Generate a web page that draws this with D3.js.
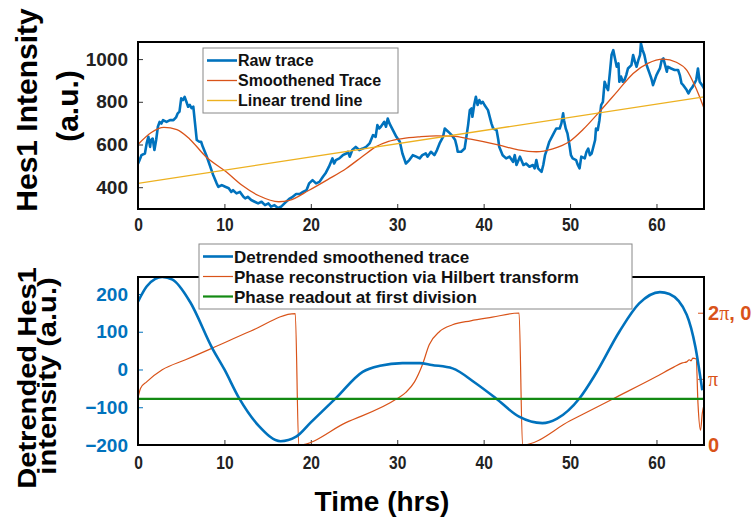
<!DOCTYPE html>
<html lang="en">
<head>
<meta charset="UTF-8">
<title>Hes1 trace and phase</title>
<script src="https://d3js.org/d3.v7.min.js"></script>
<style>
  body { margin: 0; background: #fff; }
  svg text { font-family: "Liberation Sans", Arial, sans-serif; font-weight: bold; }
</style>
</head>
<body>
<div id="chart"></div>
<script>

// raw Hes1 trace (hrs, a.u.)
var rawTime = [0, 0.1, 0.4, 0.8, 1.0, 1.2, 1.4, 1.5, 1.7, 1.9, 2.1, 2.3, 2.5, 2.7, 2.9, 3.3, 3.7, 4.1, 4.4, 4.6, 4.8,
  5.0, 5.2, 5.4, 5.6, 5.8, 6.0, 6.2, 6.4, 6.6, 6.8, 7.1, 7.3, 7.5, 7.9, 8.3, 8.5, 8.7, 9.1, 9.3, 9.7,
  10.1, 10.5, 10.8, 11.0, 11.4, 11.8, 12.2, 12.4, 12.7, 13.1, 13.5, 13.9, 14.3, 14.7, 15.1, 15.4, 15.8,
  16.2, 16.6, 17.1, 17.5, 17.8, 18.3, 18.7, 19.1, 19.5, 19.8, 20.2, 20.6, 21.0, 21.4, 21.7, 22.1, 22.5,
  22.7, 22.9, 23.3, 23.7, 24.1, 24.3, 24.5, 24.8, 25.2, 25.6, 26.0, 26.4, 26.8, 27.2, 27.5, 27.7, 27.9,
  28.1, 28.5, 28.7, 28.9, 29.1, 29.5, 29.9, 30.3, 30.6, 31.0, 31.4, 31.8, 32.2, 32.6, 32.9, 33.3, 33.5,
  33.9, 34.3, 34.6, 34.9, 35.3, 35.5, 35.9, 36.3, 36.7, 36.9, 37.0, 37.4, 37.8, 38.0, 38.2, 38.4, 38.6,
  38.7, 38.9, 39.1, 39.3, 39.5, 39.7, 39.9, 40.1, 40.5, 40.9, 41.1, 41.5, 41.7, 41.8, 42.2, 42.6, 43.0,
  43.4, 43.6, 43.8, 44.2, 44.6, 44.9, 45.3, 45.7, 45.9, 46.1, 46.3, 46.7, 46.9, 47.1, 47.3, 47.6, 48.0,
  48.4, 48.8, 49.0, 49.2, 49.3, 49.5, 49.7, 49.9, 50.1, 50.3, 50.7, 50.9, 51.1, 51.3, 51.7, 51.9, 52.1,
  52.3, 52.5, 52.9, 53.0, 53.2, 53.4, 53.6, 53.8, 54.0, 54.2, 54.4, 54.6, 54.8, 55.0, 55.2, 55.4, 55.6,
  55.7, 55.9, 56.1, 56.3, 56.5, 56.7, 57.1, 57.3, 57.5, 57.7, 57.9, 58.1, 58.2, 58.4, 58.6, 58.8, 59.0,
  59.2, 59.4, 59.6, 59.8, 60.0, 60.2, 60.4, 60.6, 60.8, 61.0, 61.2, 61.3, 61.7, 62.1, 62.5, 62.7, 62.9,
  63.1, 63.5, 63.7, 63.9, 64.2, 64.6, 64.8, 65.0, 65.4, 65.6]
var rawValue = [510, 519, 550, 558, 605, 636, 589, 621, 628, 574, 621, 683, 706, 698, 714, 706, 714, 714, 727, 746, 754,
  816, 808, 823, 800, 777, 785, 770, 777, 699, 621, 613, 613, 589, 550, 504, 480, 457, 418, 402, 410,
  402, 395, 378, 386, 371, 378, 355, 348, 355, 340, 332, 324, 332, 316, 324, 309, 316,
  303, 310, 330, 345, 352, 368, 368, 378, 386, 418, 433, 418, 425, 449, 465, 496, 535,
  511, 527, 535, 550, 558, 566, 543, 574, 589, 574, 581, 589, 605, 644, 636, 691, 675,
  683, 706, 683, 722, 699, 667, 636, 613, 558, 511, 527, 550, 543, 535, 550, 558, 543,
  566, 550, 574, 605, 636, 675, 660, 644, 621, 589, 566, 566, 581, 636, 691, 761, 769,
  730, 785, 823, 785, 808, 793, 800, 785, 761, 699, 675, 667, 621, 589, 550, 535, 543,
  519, 550, 504, 543, 504, 511, 496, 504, 488, 527, 488, 472, 504, 550, 574, 613, 644,
  675, 675, 699, 746, 714, 675, 652, 605, 550, 535, 527, 504, 488, 543, 535, 566, 581,
  550, 558, 621, 675, 667, 714, 785, 800, 894, 871, 855, 933, 1019, 1042, 1003, 964, 980,
  894, 918, 894, 902, 925, 956, 972, 1019, 988, 964, 995, 1019, 1074, 1042, 1019, 980, 956,
  933, 910, 878, 902, 925, 941, 956, 995, 1003, 972, 941, 964, 956, 949, 949, 925, 886,
  878, 855, 839, 855, 871, 902, 956, 894, 871, 855]

// smoothened trace
var smoothTime = [0, 1.5, 3, 4.5, 6, 7.8, 10.2, 12, 14, 16.3, 17.5, 19.8, 22, 24.1, 26, 27.5, 29, 30.6, 32.6,
  34.5, 36.4, 38.5, 41.8, 44, 46.1, 48, 49.9, 51.5, 53.4, 55.5, 57.3, 59, 60.8, 62.3, 63.5, 64.5, 65.5]
var smoothValue = [600, 655, 680, 670, 625, 545, 472, 410, 360, 332, 338, 386, 437, 488, 545, 589, 615, 628, 636,
  640, 639, 625, 597, 575, 566, 580, 613, 670, 753, 850, 933, 980, 1000, 985, 948, 870, 770]

// linear trend line (end points)
var trendTime = [0, 65.5]
var trendValue = [418, 823]

// detrended smoothened trace
var detrendTime = [0, 1, 2, 2.8, 4, 6, 8.6, 10, 11.7, 14, 16.5, 18.3, 20, 22.9, 26, 28, 30.6, 32.6, 34, 36.4,
  39, 41.4, 44.1, 46.8, 48.5, 51.1, 53, 55.7, 58, 60.4, 61.5, 63.5, 64.5, 65.3]
var detrendValue = [180, 220, 240, 245, 238, 180, 56, 0, -76, -150, -190, -178, -140, -76, -6, 10, 17, 17, 12, 3,
  -35, -76, -125, -142, -130, -76, -10, 100, 175, 205, 200, 145, 60, -55]

// phase from Hilbert transform (rad)
var phaseTime = [0, 0.3, 1.0, 2.8, 5.5, 8.6, 13, 18.2, 18.6, 24, 29.9, 31, 32, 32.9, 33.7, 34.9, 36.4, 38.5, 41, 44.1,
  44.5, 50, 55, 60, 62, 63, 63.5, 63.8, 64.0, 64.2, 64.6, 64.8, 65.1, 65.3, 65.5]
var phaseValue = [2.24, 2.7, 3.0, 3.57, 4.05, 4.6, 5.4, 6.24, 0, 1.05, 2.18, 2.5, 3.0, 3.8, 4.76, 5.39, 5.71, 5.9, 6.07, 6.27,
  0, 1.15, 2.2, 3.25, 3.7, 3.9, 3.95, 4.05, 4.0, 4.13, 4.08, 2.0, 0.7, 1.5, 1.9]

var phaseReadout = 2.19

var timeTicks = [0, 10, 20, 30, 40, 50, 60]
var intensityTicks = [400, 600, 800, 1000]
var detrendTicks = [-200, -100, 0, 100, 200]
var phaseTicks = [0, Math.PI, 2 * Math.PI]
var phaseTickLabels = ["0", "π", "2π, 0"]

var topLegend = ["Raw trace", "Smoothened Trace", "Linear trend line"]
var bottomLegend = ["Detrended smoothened trace", "Phase reconstruction via Hilbert transform", "Phase readout at first division"]

var blue = "#0072BD", orange = "#D95319", yellow = "#EDB120", green = "#138a13"

var width = 755, height = 523
var left = 138, right = 704

var svg = d3.select("#chart").append("svg")
  .attr("width", width)
  .attr("height", height)

var x = d3.scaleLinear().domain([0, 65.5]).range([left, right])
var yTop = d3.scaleLinear().domain([298, 1080]).range([209, 42])
var yLeft = d3.scaleLinear().domain([-200, 245]).range([445, 277])
var yRight = d3.scaleLinear().domain([0, 7.98]).range([445, 277])

var zip = function(a, b) { return a.map(function(d, i) { return [d, b[i]] }) }

// clip paths for the two panels
var defs = svg.append("defs")
defs.append("clipPath").attr("id", "clipTop").append("rect")
  .attr("x", left).attr("y", 42).attr("width", right - left).attr("height", 209 - 42)
defs.append("clipPath").attr("id", "clipBot").append("rect")
  .attr("x", left).attr("y", 277).attr("width", right - left).attr("height", 445 - 277)

// ---------- top panel ----------
var topPanel = svg.append("g")

var xAxisTop = topPanel.append("g").attr("transform", "translate(0,209)")
  .call(d3.axisBottom(x).tickValues(timeTicks).tickSizeInner(-5).tickSizeOuter(0).tickPadding(9))
var yAxisTop = topPanel.append("g").attr("transform", "translate(" + left + ",0)")
  .call(d3.axisLeft(yTop).tickValues(intensityTicks).tickFormat(d3.format("d"))
    .tickSizeInner(-5).tickSizeOuter(0).tickPadding(10))

var lineTop = d3.line().x(function(d) { return x(d[0]) }).y(function(d) { return yTop(d[1]) })
var plotTop = topPanel.append("g").attr("clip-path", "url(#clipTop)")

plotTop.append("path").datum(zip(rawTime, rawValue))
  .attr("d", lineTop).attr("fill", "none").attr("stroke", blue).attr("stroke-width", 2.6)
  .attr("stroke-linejoin", "round")
plotTop.append("path").datum(zip(smoothTime, smoothValue))
  .attr("d", lineTop.curve(d3.curveMonotoneX)).attr("fill", "none").attr("stroke", orange).attr("stroke-width", 1.3)
lineTop.curve(d3.curveLinear)
plotTop.append("path").datum(zip(trendTime, trendValue))
  .attr("d", lineTop).attr("fill", "none").attr("stroke", yellow).attr("stroke-width", 1.4)

topPanel.append("rect").attr("x", left).attr("y", 42).attr("width", right - left).attr("height", 209 - 42)
  .attr("fill", "none").attr("stroke", "#000").attr("stroke-width", 2)

// ---------- bottom panel ----------
var botPanel = svg.append("g")

var xAxisBot = botPanel.append("g").attr("transform", "translate(0,445)")
  .call(d3.axisBottom(x).tickValues(timeTicks).tickSizeInner(-5).tickSizeOuter(0).tickPadding(11))
var yAxisLeft = botPanel.append("g").attr("transform", "translate(" + left + ",0)")
  .call(d3.axisLeft(yLeft).tickValues(detrendTicks).tickSizeInner(-5).tickSizeOuter(0).tickPadding(10))
var yAxisRight = botPanel.append("g").attr("transform", "translate(" + right + ",0)")
  .call(d3.axisRight(yRight).tickValues(phaseTicks).tickFormat(function(d, i) { return phaseTickLabels[i] })
    .tickSizeInner(-6).tickSizeOuter(0).tickPadding(4))

var plotBot = botPanel.append("g").attr("clip-path", "url(#clipBot)")
var lineLeft = d3.line().x(function(d) { return x(d[0]) }).y(function(d) { return yLeft(d[1]) })
  .curve(d3.curveMonotoneX)
var lineRight = d3.line().x(function(d) { return x(d[0]) }).y(function(d) { return yRight(d[1]) })
  .curve(d3.curveMonotoneX)

plotBot.append("path").datum(zip(phaseTime, phaseValue))
  .attr("d", lineRight).attr("fill", "none").attr("stroke", orange).attr("stroke-width", 1.2)
plotBot.append("path").datum(zip(detrendTime, detrendValue))
  .attr("d", lineLeft).attr("fill", "none").attr("stroke", blue).attr("stroke-width", 2.6)
plotBot.append("path").datum([[0, phaseReadout], [65.5, phaseReadout]])
  .attr("d", lineRight).attr("fill", "none").attr("stroke", green).attr("stroke-width", 2.2)

botPanel.append("rect").attr("x", left).attr("y", 277).attr("width", right - left).attr("height", 445 - 277)
  .attr("fill", "none").attr("stroke", "#000").attr("stroke-width", 2)

// ---------- axis styling ----------
svg.selectAll(".domain").remove()
svg.selectAll(".tick line").attr("stroke", "#333")
xAxisTop.selectAll("text").attr("font-size", 19).attr("fill", "#222")
  .attr("transform", "scale(0.82,1)")
xAxisBot.selectAll("text").attr("font-size", 19).attr("fill", "#222")
  .attr("transform", "scale(0.82,1)")
yAxisTop.selectAll("text").attr("font-size", 19).attr("fill", "#222")
yAxisLeft.selectAll("text").attr("font-size", 19).attr("fill", blue)
yAxisLeft.selectAll(".tick line").attr("stroke", blue)
yAxisRight.selectAll(".tick line").attr("stroke", orange)
yAxisRight.selectAll("text").attr("font-size", 20).attr("fill", orange)
  .each(function() {
    var t = d3.select(this), s = t.text()
    if (s.indexOf("π") < 0) return
    t.text(null)
    s.split("").forEach(function(c) {
      t.append("tspan").text(c).attr("font-weight", c === "π" ? "normal" : "bold")
        .attr("font-family", c === "π" ? "'Liberation Serif', serif" : null)
    })
  })

// ---------- legends ----------
function legend(g, x0, y0, w, h, rows, styles, fs) {
  g.append("rect").attr("x", x0).attr("y", y0).attr("width", w).attr("height", h)
    .attr("fill", "#fff").attr("stroke", "#888").attr("stroke-width", 1)
  rows.forEach(function(r, i) {
    var cy = y0 + 12.5 + i * 20
    g.append("line").attr("x1", x0 + 4).attr("x2", x0 + 34).attr("y1", cy).attr("y2", cy)
      .attr("stroke", styles[i][0]).attr("stroke-width", styles[i][1])
    g.append("text").attr("x", x0 + 35).attr("y", cy).attr("dy", "0.36em")
      .attr("font-size", fs).attr("fill", "#111").text(r)
  })
}
legend(svg.append("g"), 203, 48, 195, 65, topLegend,
  [[blue, 2.6], [orange, 1.3], [yellow, 1.4]], 16)
legend(svg.append("g"), 199, 244, 433, 65, bottomLegend,
  [[blue, 2.6], [orange, 1.2], [green, 2.2]], 17)

// ---------- axis titles ----------
svg.append("text").attr("transform", "translate(37,110) rotate(-90)")
  .attr("text-anchor", "middle").attr("font-size", 30).attr("fill", "#000").text("Hes1 Intensity")
svg.append("text").attr("transform", "translate(78,106) rotate(-90)")
  .attr("text-anchor", "middle").attr("font-size", 30).attr("fill", "#000").text("(a.u.)")
svg.append("text").attr("transform", "translate(36,378) rotate(-90) scale(1.12,1)")
  .attr("text-anchor", "middle").attr("font-size", 26).attr("fill", "#000").text("Detrended Hes1")
svg.append("text").attr("transform", "translate(56,376) rotate(-90) scale(1.12,1)")
  .attr("text-anchor", "middle").attr("font-size", 26).attr("fill", "#000").text("intensity (a.u.)")
svg.append("text").attr("x", 382).attr("y", 511)
  .attr("text-anchor", "middle").attr("font-size", 28).attr("fill", "#000").text("Time (hrs)")

</script>
</body>
</html>
